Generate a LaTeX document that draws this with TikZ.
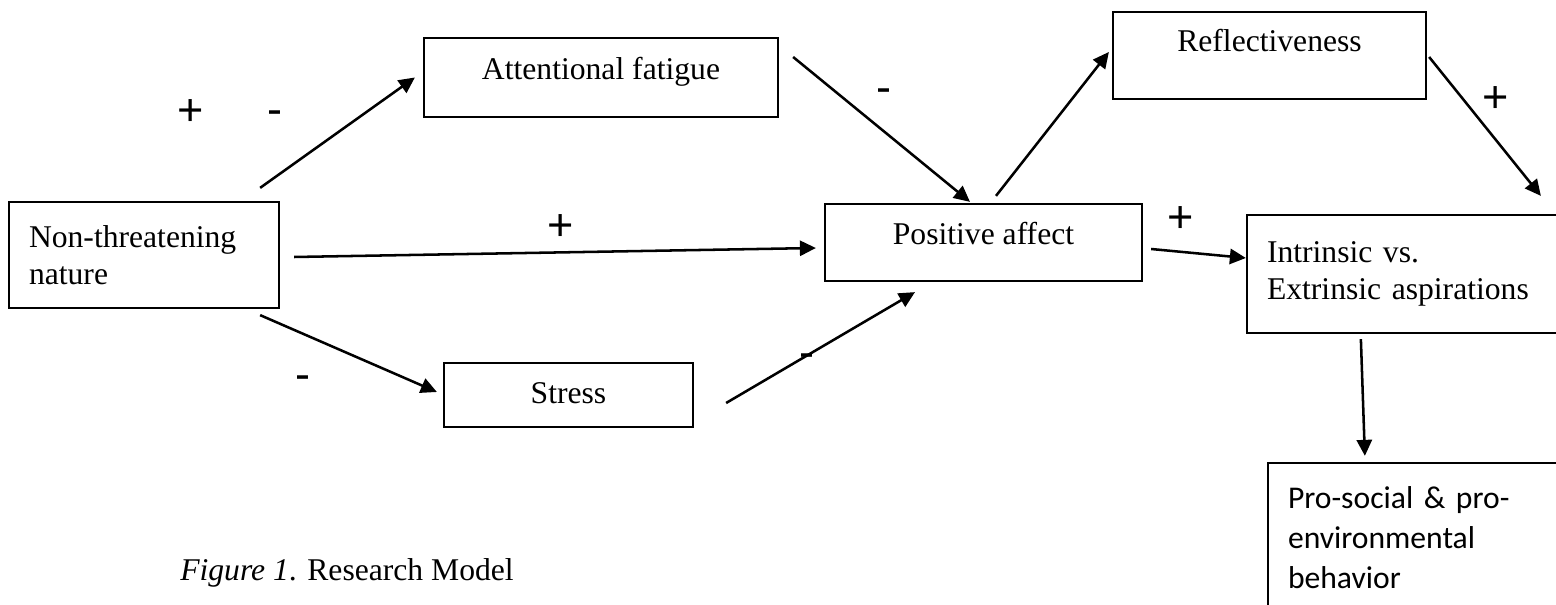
\documentclass[tikz,border=0pt]{standalone}
\usepackage{fontspec}
\setmainfont{Liberation Serif}
\newfontfamily\calibrifont{Carlito}
\newfontfamily\signfont{Liberation Sans}
\usetikzlibrary{arrows.meta,calc}

\tikzstyle{construct} = [rectangle, draw=black, line width=1.6pt, fill=white, text centered, text height=0.525cm, font=\fontsize{22.5}{26.3}\selectfont]
\tikzstyle{multiline} = [rectangle, draw=black, line width=1.6pt, fill=white, align=left, inner xsep=0.5cm, font=\fontsize{22.5}{26.3}\selectfont]
\tikzstyle{sign} = [anchor=base, inner sep=0pt, font=\signfont\fontsize{32}{32}\selectfont]
\tikzstyle{flow} = [line width=1.8pt, -{Triangle[length=0.4cm,width=0.38cm]}]

\begin{document}
\begin{tikzpicture}[node distance=10.5cm]
      \useasboundingbox (0,0) rectangle (38.9,15.125);
      \clip (0,0) rectangle (38.9,15.125);

      \node (nat) [multiline, minimum width=6.75cm, minimum height=2.65cm, text width=5.75cm] at (3.6,8.75) {Non-threatening\\nature};
      \node (fat) [construct, right of=nat, xshift=0.925cm, yshift=4.4375cm, minimum width=8.85cm, minimum height=1.975cm, text depth=0.4cm] {Attentional fatigue};
      \node (str) [construct, right of=nat, xshift=0.1125cm, yshift=-3.5cm, minimum width=6.225cm, minimum height=1.6cm, text depth=0.075cm] {Stress};
      \node (pos) [construct, right of=fat, xshift=-0.9375cm, yshift=-4.125cm, minimum width=7.925cm, minimum height=1.925cm, text depth=0.4cm] {Positive affect};
      \node (ref) [construct, right of=pos, xshift=-3.35cm, yshift=4.675cm, minimum width=7.825cm, minimum height=2.175cm, text depth=0.7cm] {Reflectiveness};
      \node (asp) [multiline, right of=pos, xshift=0.25cm, yshift=-0.7875cm, minimum width=8.325cm, minimum height=2.95cm, text width=7.325cm] {Intrinsic vs.\\Extrinsic aspirations};
      \node (pro) [multiline, below of=asp, xshift=0.2625cm, yshift=3.9cm, minimum width=7.8cm, minimum height=3.75cm, text width=6.8cm, font=\calibrifont\fontsize{22.5}{28.45}\selectfont] {Pro-social \& pro-\\environmental\\behavior};

      \node (p1) [sign] at (4.7675,11.98) {+};
      \node (m1) [sign] at (6.875,12.0) {-};
      \node (m2) [sign] at (22.1,12.55) {-};
      \node (p2) [sign] at (14.025,9.106) {+};
      \node (m3) [sign] at (7.575,5.377) {-};
      \node (m4) [sign] at (20.175,5.93) {-};
      \node (p3) [sign] at (29.525,9.306) {+};
      \node (p4) [sign] at (37.4,12.306) {+};

      \node (cap) [anchor=base west, inner sep=0pt, font=\fontsize{22.5}{26.3}\selectfont] at (4.5,0.6) {\textit{Figure 1}. Research Model};

      \draw [flow] ($(nat.north east)+(-0.5,0.325)$) -- ($(fat.west)+(-0.2,0)$);
      \draw [flow] ($(nat.east)+(0.35,-0.05)$) -- ($(pos.west)+(-0.2,-0.1375)$);
      \draw [flow] ($(nat.south east)+(-0.5,-0.15)$) -- ($(str.west)+(-0.15,0.075)$);
      \draw [flow] ($(fat.east)+(0.35,0.5125)$) -- ($(pos.north)+(-0.3375,0.025)$);
      \draw [flow] ($(str.east)+(0.8,-0.2)$) -- ($(pos.south)+(-1.7125,-0.25)$);
      \draw [flow] ($(pos.north)+(0.3125,0.175)$) -- ($(ref.west)+(-0.075,0.0875)$);
      \draw [flow] ($(ref.east)+(0.05,-0.0375)$) -- ($(asp.north west)+(7.375,0.45)$);
      \draw [flow] ($(pos.east)+(0.2,-0.1625)$) -- ($(asp.west)+(0,0.4)$);
      \draw [flow] ($(asp.south west)+(2.875,-0.125)$) -- ($(pro.north west)+(2.45,0.15)$);
\end{tikzpicture}
\end{document}
